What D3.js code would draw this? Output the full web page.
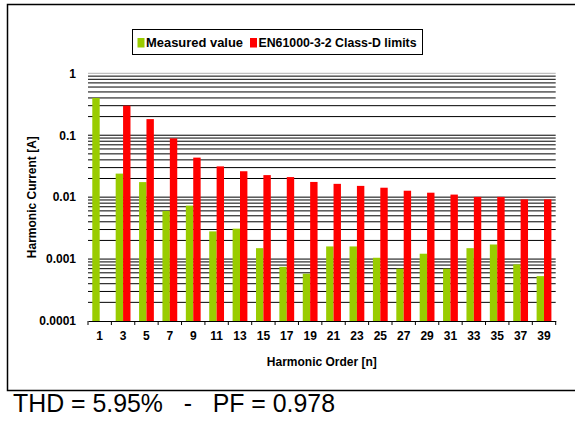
<!DOCTYPE html>
<html>
<head>
<meta charset="utf-8">
<script src="https://cdn.jsdelivr.net/npm/d3@7"></script>
<style>
  body { margin: 0; background: #fff; }
  svg { display: block; font-family: "Liberation Sans", Arial, sans-serif; }
</style>
</head>
<body>
<div id="chart"></div>
<script>
// Harmonic current vs. EN61000-3-2 Class D limits
const harmonicOrders = [1, 3, 5, 7, 9, 11, 13, 15, 17, 19, 21, 23, 25, 27, 29, 31, 33, 35, 37, 39];
const measuredValues = [0.4, 0.024, 0.0175, 0.006, 0.0073, 0.0028, 0.0031, 0.0015, 0.00075, 0.00058,
                        0.0016, 0.0016, 0.00105, 0.0007, 0.00122, 0.0007, 0.0015, 0.00172, 0.00082, 0.00053];
const limitValues = [null, 0.3, 0.182, 0.089, 0.0435, 0.0314, 0.0262, 0.0227, 0.0211, 0.0176,
                     0.0164, 0.0152, 0.0142, 0.0127, 0.0118, 0.011, 0.0101, 0.0101, 0.0092, 0.0092];
const seriesNames = ["Measured value", "EN61000-3-2 Class-D limits"];
const seriesColors = ["#99cc00", "#ff0000"];
const yTickValues = [1, 0.1, 0.01, 0.001, 0.0001];

const width = 575, height = 421;
const plot = { left: 88, right: 555.7, top: 73.3, bottom: 321 };

const svg = d3.select("#chart").append("svg")
  .attr("width", width)
  .attr("height", height);

// Outer frame
svg.append("path")
  .attr("d", `M${width},4.5 H7.5 V390.5 H${width}`)
  .attr("fill", "none")
  .attr("stroke", "#000")
  .attr("stroke-width", 1.5);

// Scales
const x0 = d3.scaleBand()
  .domain(harmonicOrders)
  .range([plot.left, plot.right])
  .padding(0);

const x1 = d3.scaleBand()
  .domain([0, 1])
  .range([0, x0.bandwidth()])
  .paddingInner(0)
  .paddingOuter(0.58);

const y = d3.scaleLog()
  .domain([0.0001, 1])
  .range([plot.bottom, plot.top]);

// Gridlines (every 1..9 within each decade)
const gridValues = [];
yTickValues.slice(1).forEach(d => {
  for (let k = 1; k <= 9; k++) gridValues.push(d * k);
});
gridValues.push(1);

svg.append("g")
  .selectAll("line")
  .data(gridValues.filter(v => v > 0.0001))
  .join("line")
  .attr("x1", plot.left)
  .attr("x2", plot.right)
  .attr("y1", d => y(d))
  .attr("y2", d => y(d))
  .attr("stroke", d => d === 1 ? "#b0b0b0" : "#000")
  .attr("stroke-width", 1);

// Bars
const rows = harmonicOrders.map((h, i) => ({ h, values: [measuredValues[i], limitValues[i]] }));

const groups = svg.append("g")
  .selectAll("g")
  .data(rows)
  .join("g")
  .attr("transform", d => `translate(${x0(d.h)},0)`);

groups.selectAll("rect")
  .data(d => d.values.map((v, s) => ({ v, s })).filter(e => e.v != null))
  .join("rect")
  .attr("x", d => x1(d.s))
  .attr("width", x1.bandwidth())
  .attr("y", d => y(d.v))
  .attr("height", d => y(0.0001) - y(d.v))
  .attr("fill", d => seriesColors[d.s]);

// X axis
const xAxis = svg.append("g")
  .attr("transform", `translate(0,${plot.bottom})`)
  .call(d3.axisBottom(x0).tickSize(0).tickPadding(10).tickSizeOuter(0));

xAxis.select(".domain").attr("stroke", "#000").attr("stroke-width", 1);
xAxis.selectAll("text")
  .attr("fill", "#000")
  .style("font-size", "12px")
  .style("font-weight", "bold");

// Tick marks between categories
const boundaries = harmonicOrders.map(h => x0(h)).concat([x0(harmonicOrders[harmonicOrders.length - 1]) + x0.bandwidth()]);
svg.append("g")
  .selectAll("line")
  .data(boundaries)
  .join("line")
  .attr("x1", d => d)
  .attr("x2", d => d)
  .attr("y1", plot.bottom)
  .attr("y2", plot.bottom + 4)
  .attr("stroke", "#000");

// Y axis labels
const yAxis = svg.append("g")
  .attr("transform", `translate(${plot.left},0)`)
  .call(d3.axisLeft(y).tickValues(yTickValues).tickFormat(d => String(d)).tickSize(0).tickPadding(12));

yAxis.select(".domain").remove();
yAxis.selectAll("text")
  .attr("fill", "#000")
  .style("font-size", "12px")
  .style("font-weight", "bold");

// Axis titles
svg.append("text")
  .attr("x", (plot.left + plot.right) / 2)
  .attr("y", 366)
  .attr("text-anchor", "middle")
  .style("font-size", "12px")
  .style("font-weight", "bold")
  .text("Harmonic Order [n]");

svg.append("text")
  .attr("transform", `translate(36,${(plot.top + plot.bottom) / 2}) rotate(-90)`)
  .attr("text-anchor", "middle")
  .style("font-size", "12px")
  .style("font-weight", "bold")
  .text("Harmonic Current [A]");

// Legend
const legend = svg.append("g");
legend.append("rect")
  .attr("x", 132.5)
  .attr("y", 29.5)
  .attr("width", 290)
  .attr("height", 25)
  .attr("fill", "#fff")
  .attr("stroke", "#000")
  .attr("stroke-width", 1);

const legendX = [137.5, 250];
const legendTextLen = [97, 158];
seriesNames.forEach((name, i) => {
  legend.append("rect")
    .attr("x", legendX[i])
    .attr("y", 38)
    .attr("width", 7)
    .attr("height", 9.5)
    .attr("fill", seriesColors[i]);
  legend.append("text")
    .attr("x", legendX[i] + 8.5)
    .attr("y", 46.5)
    .attr("textLength", legendTextLen[i])
    .attr("lengthAdjust", "spacingAndGlyphs")
    .style("font-size", "12px")
    .style("font-weight", "bold")
    .text(name);
});

// Footer summary
svg.append("text")
  .attr("x", 13)
  .attr("y", 412)
  .attr("textLength", 322)
  .attr("lengthAdjust", "spacingAndGlyphs")
  .style("font-size", "26px")
  .style("white-space", "pre")
  .text("THD = 5.95%   -   PF = 0.978");
</script>
</body>
</html>
